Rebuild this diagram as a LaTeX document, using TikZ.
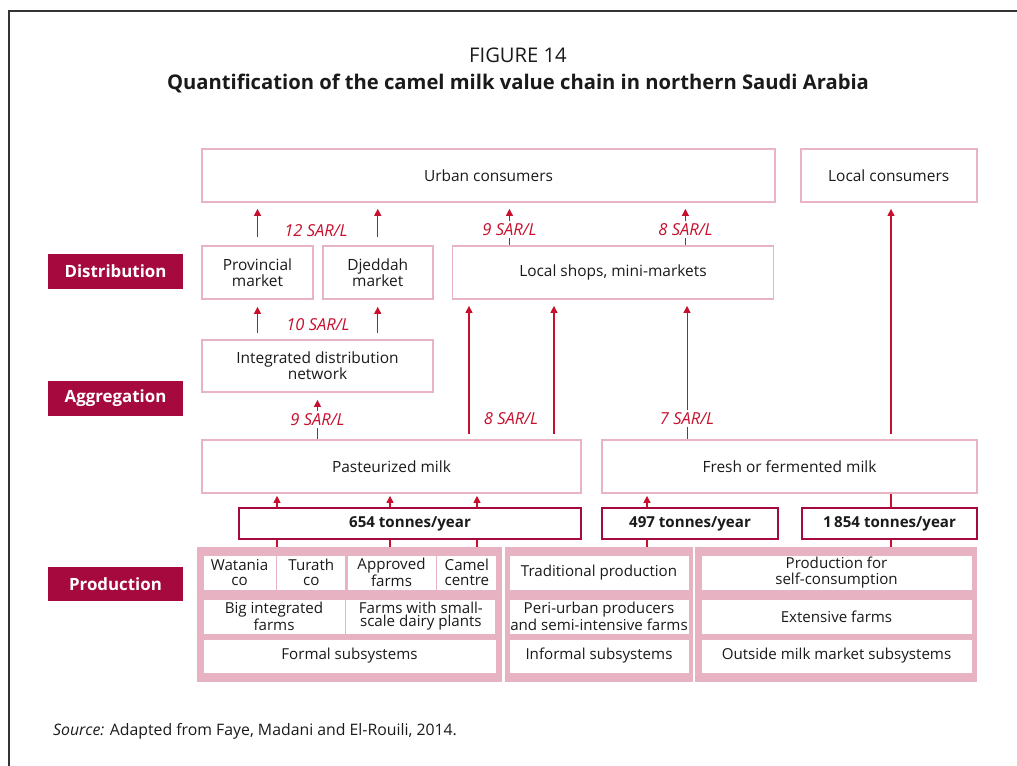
\documentclass[tikz,border=0pt]{standalone}
\usepackage{fontspec}
\setmainfont{Open Sans}
\usetikzlibrary{positioning, arrows.meta}
\definecolor{crimson}{HTML}{A6093D}
\definecolor{pricered}{HTML}{C8102E}
\definecolor{boxpink}{HTML}{E8B4C3}
\definecolor{panelpink}{HTML}{E7B2C2}
\definecolor{ink}{HTML}{1A1A1A}

\begin{document}
\begin{tikzpicture}[x=0.02cm, y=-0.02cm,
    font=\fontsize{8.8}{9}\selectfont, text=ink,
    box/.style={draw=boxpink, line width=1pt, fill=white, align=center,
        inner sep=1pt, minimum height=1.06cm},
    stage/.style={fill=crimson, text=white,
        font=\fontsize{9.6}{11}\selectfont\bfseries,
        minimum width=2.7cm, minimum height=0.7cm},
    tonnes/.style={draw=crimson, line width=1.2pt, fill=white,
        font=\fontsize{8.6}{10}\selectfont\bfseries, minimum height=0.62cm},
    panel/.style={fill=panelpink, minimum height=2.7cm},
    cell/.style={fill=white, draw=boxpink, line width=0.5pt, align=center,
        inner sep=0pt, minimum height=0.7cm,
        font=\fontsize{8.6}{8.2}\selectfont},
    price/.style={text=pricered, font=\fontsize{9.4}{10}\selectfont\itshape,
        fill=white, inner sep=1.5pt},
    flow/.style={draw=pricered, line width=0.6pt,
        -{Triangle[length=4pt, width=4pt]}},
  ]
    \useasboundingbox (0,0) rectangle (1017,766);
    % frame and title
    \draw[line width=1.2pt, black!80] (9,766) -- (9,11) -- (1017,11);
    \node (fig) at (518,55) {\fontsize{11.5}{13}\selectfont FIGURE 14};
    \node (title) at (518,83)
        {\fontsize{11.5}{13}\selectfont\bfseries Quantification of the camel milk value chain in northern Saudi Arabia};

    % stages
    \node[stage] (distlbl) at (115.5,271.5) {Distribution};
    \node[stage] (agglbl) at (115.5,398.5) {Aggregation};
    \node[stage] (prodlbl) at (115.5,584) {Production};

    % consumers
    \node[box, minimum width=11.46cm] (urban) at (488.5,175.5) {Urban consumers};
    \node[box,
        minimum width=3.52cm,
        right=0.48cm of urban
        ] (localcons) {Local consumers};

    % distribution
    \node[box, minimum width=2.22cm] (prov) at (257.5,272.5) {Provincial\\market};
    \node[box,
        minimum width=2.2cm,
        right=0.16cm of prov
        ] (djeddah) {Djeddah\\market};
    \node[box,
        minimum width=6.42cm,
        right=0.36cm of djeddah
        ] (shops) {Local shops, mini-markets};

    % aggregation
    \node[box, minimum width=4.62cm, minimum height=1.04cm] (integ) at (317.5,366)
        {Integrated distribution\\network};

    % products
    \node[box, minimum width=7.58cm] (past) at (391.5,466.5) {Pasteurized milk};
    \node[box, minimum width=7.5cm] (fresh) at (789.5,466.5) {Fresh or fermented milk};

    % production panels
    \node[panel, minimum width=6.1cm] (formalpanel) at (349.5,614.5) {};
    \node[panel, minimum width=3.76cm] (informalpanel) at (599,614.5) {};
    \node[panel, minimum width=5.64cm] (outsidepanel) at (836,614.5) {};

    \node[cell, minimum width=1.46cm] (watania) at (239.5,572.5) {Watania\\co};
    \node[cell,
        minimum width=1.38cm,
        right=0pt of watania
        ] (turath) {Turath\\co};
    \node[cell, minimum width=1.78cm] (approved) at (391.5,572.5) {Approved\\farms};
    \node[cell,
        minimum width=1.2cm,
        right=0pt of approved
        ] (camel) {Camel\\centre};
    \node[cell, minimum width=2.84cm] (bigfarms) at (274,616.5) {Big integrated\\farms};
    \node[cell,
        minimum width=3cm,
        right=0pt of bigfarms,
        font=\fontsize{8.6}{7.4}\selectfont
        ] (smallfarms) {Farms with small-\\scale dairy plants};
    \node[cell, minimum width=5.86cm, minimum height=0.68cm] (formal) at (349.5,656)
        {Formal subsystems};

    \node[cell, minimum width=3.6cm] (trad) at (599,572.5) {Traditional production};
    \node[cell, minimum width=3.6cm, font=\fontsize{8.6}{7.4}\selectfont] (peri) at (599,616.5)
        {Peri-urban producers\\and semi-intensive farms};
    \node[cell, minimum width=3.6cm, minimum height=0.68cm] (informal) at (599,656)
        {Informal subsystems};

    \node[cell, minimum width=5.42cm, font=\fontsize{8.6}{9}\selectfont] (selfcons) at (836.5,572.5)
        {Production for\\self-consumption};
    \node[cell, minimum width=5.42cm] (extensive) at (836.5,616.5) {Extensive farms};
    \node[cell, minimum width=5.42cm, minimum height=0.68cm] (outside) at (836.5,656)
        {Outside milk market subsystems};

    % points where the flows leave
    \coordinate (s9) at ([xshift=-2.07cm]shops.north);
    \coordinate (s8) at ([xshift=1.45cm]shops.north);
    \coordinate (pa) at ([xshift=1.55cm]past.north);
    \coordinate (pb) at ([xshift=3.25cm]past.north);
    \coordinate (f7) at ([xshift=-2.05cm]fresh.north);
    \coordinate (fl) at ([xshift=2.03cm]fresh.north);
    \coordinate (fa) at ([xshift=-1.45cm]formalpanel.north);
    \coordinate (fb) at ([xshift=0.81cm]formalpanel.north);
    \coordinate (fc) at ([xshift=2.55cm]formalpanel.north);
    \coordinate (ia) at ([xshift=0.96cm]informalpanel.north);
    \coordinate (oa) at ([xshift=1.1cm]outsidepanel.north);

    % flows up the chain
    \draw[flow, shorten <=0.16cm, shorten >=0.12cm] (prov.north) -- (prov.north |- urban.south);
    \draw[flow, shorten <=0.16cm, shorten >=0.12cm] (djeddah.north) -- (djeddah.north |- urban.south);
    \node[price] (p12) at (316,231) {12 SAR/L};
    \draw[flow, shorten >=0.12cm] (s9) -- node[price, pos=0.37] (p9a) {9 SAR/L} (s9 |- urban.south);
    \draw[flow, shorten >=0.12cm] (s8) -- node[price, pos=0.37] (p8a) {8 SAR/L} (s8 |- urban.south);

    \draw[flow, shorten <=0.12cm, shorten >=0.14cm] (prov.south |- integ.north) -- (prov.south);
    \draw[flow, shorten <=0.12cm, shorten >=0.14cm] (djeddah.south |- integ.north) -- (djeddah.south);
    \node[price] (p10) at (318,325) {10 SAR/L};

    \draw[flow, shorten >=0.14cm] (past.north -| integ.south) -- node[price, pos=0.42] (p9b) {9 SAR/L} (integ.south);
    \draw[flow, shorten <=0.1cm, shorten >=0.12cm] (pa) -- (pa |- shops.south);
    \draw[flow, shorten <=0.1cm, shorten >=0.12cm] (pb) -- (pb |- shops.south);
    \node[price] (p8b) at (511,419) {8 SAR/L};
    \draw[flow, shorten >=0.12cm] (f7) -- node[price, pos=0.15] (p7) {7 SAR/L} (f7 |- shops.south);
    \draw[flow, shorten <=0.1cm, shorten >=0.12cm] (fl) -- (fl |- localcons.south);

    \draw[flow, shorten >=0.04cm] (fa) -- (fa |- past.south);
    \draw[flow, shorten >=0.04cm] (fb) -- (fb |- past.south);
    \draw[flow, shorten >=0.04cm] (fc) -- (fc |- past.south);
    \draw[flow, shorten >=0.04cm] (ia) -- (ia |- fresh.south);
    \draw[draw=pricered, line width=0.6pt] (oa) -- (oa |- fresh.south);

    % quantities
    \node[tonnes, minimum width=6.84cm] (q654) at (410,523.5) {654 tonnes/year};
    \node[tonnes, minimum width=3.52cm] (q497) at (690,523.5) {497 tonnes/year};
    \node[tonnes, minimum width=3.5cm] (q1854) at (889.5,523.5) {1\,854 tonnes/year};

    % source
    \node[anchor=west] (src) at (47,731) {\fontsize{9}{11}\selectfont\textit{Source:} Adapted from Faye, Madani and El-Rouili, 2014.};
\end{tikzpicture}
\end{document}
